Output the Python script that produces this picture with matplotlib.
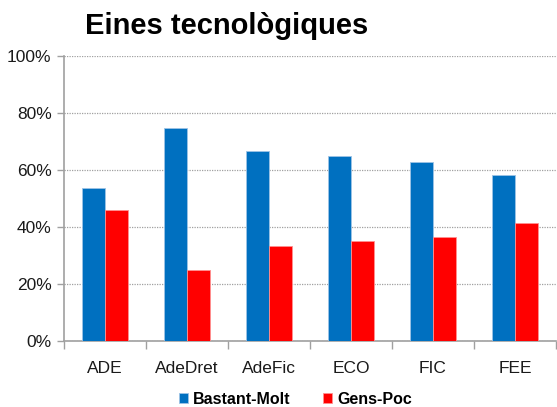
import matplotlib
matplotlib.use("Agg")
import matplotlib.pyplot as plt
import matplotlib.ticker
import numpy as np

# ---------------------------------------------------------------------------
# Data
# ---------------------------------------------------------------------------
categories = ["ADE", "AdeDret", "AdeFic", "ECO", "FIC", "FEE"]
bastant_molt = [53.6, 74.8, 66.7, 64.8, 62.9, 58.4]
gens_poc = [46.0, 25.1, 33.2, 35.1, 36.7, 41.3]
y_ticks = [0, 20, 40, 60, 80, 100]

blue = "#0070C0"
red = "#FF0000"
font = ["Liberation Sans", "DejaVu Sans"]

fig = plt.figure(figsize=(5.57, 4.07), dpi=100)
ax = fig.add_axes([0.115, 0.162, 0.883, 0.700])

x = np.arange(len(categories))
w = 0.284
ax.bar(x - w / 2, bastant_molt, width=w, color=blue, edgecolor="#9dc3e6",
       linewidth=0.6, label="Bastant-Molt", zorder=3)
ax.bar(x + w / 2, gens_poc, width=w, color=red, edgecolor="#ff9090",
       linewidth=0.6, label="Gens-Poc", zorder=3)

ax.set_xlim(-0.5, len(categories) - 0.5)
ax.set_ylim(0, 100)
ax.set_yticks(y_ticks)
ax.yaxis.set_major_formatter(matplotlib.ticker.FuncFormatter(lambda v, _: f"{v:.0f}%"))
ax.grid(axis="y", color="#a0a0a0", linestyle=(0, (1, 1)), linewidth=0.9, zorder=0)

# category labels centered, tick marks on boundaries
ax.set_xticks(x)
ax.set_xticklabels(categories)
ax.tick_params(axis="x", which="major", length=0, pad=14)
ax.set_xticks(np.arange(-0.5, len(categories)), minor=True)
ax.tick_params(axis="x", which="minor", length=6, color="#a0a0a0", width=1)
ax.tick_params(axis="y", length=5, color="#a0a0a0", width=1, pad=4)

for lbl in ax.get_xticklabels() + ax.get_yticklabels():
    lbl.set_family(font)
    lbl.set_fontsize(12.5)
    lbl.set_color("#1a1a1a")

for s in ["top", "right"]:
    ax.spines[s].set_visible(False)
for s in ["left", "bottom"]:
    ax.spines[s].set_color("#a0a0a0")
    ax.spines[s].set_linewidth(1.2)

fig.text(0.152, 0.917, "Eines tecnològiques", fontsize=21, fontweight="bold",
         family=font, ha="left", va="baseline")

leg = fig.legend(loc="lower center", bbox_to_anchor=(0.53, -0.035), ncol=2,
                 frameon=False, handlelength=0.6, handleheight=0.6,
                 handletextpad=0.3, columnspacing=2.0,
                 prop={"family": font, "weight": "bold", "size": 11.5})

fig.savefig("out.png", dpi=100)
